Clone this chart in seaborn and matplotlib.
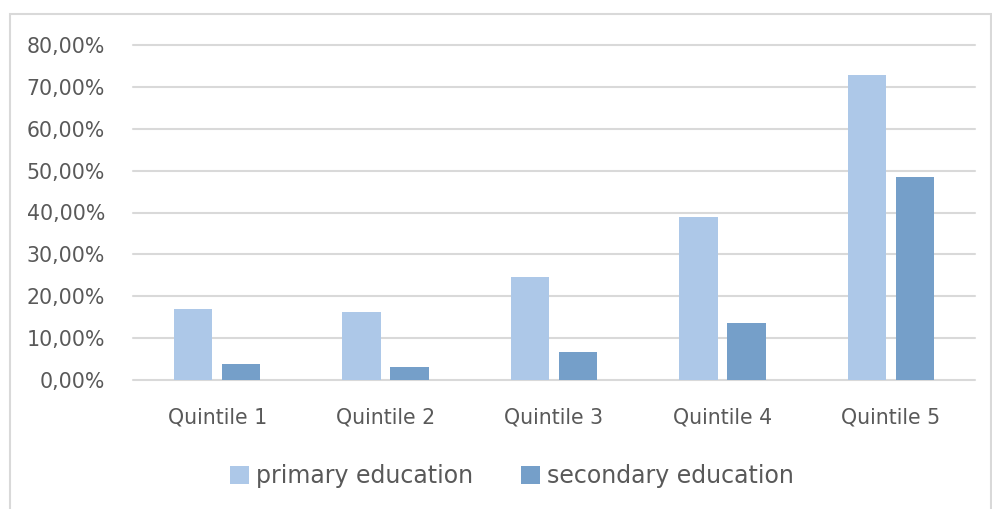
import matplotlib
matplotlib.use("Agg")
import matplotlib.pyplot as plt
import seaborn as sns
import pandas as pd
from matplotlib.ticker import FuncFormatter, MultipleLocator
from matplotlib.patches import Rectangle

# data
quintiles = ["Quintile 1", "Quintile 2", "Quintile 3", "Quintile 4", "Quintile 5"]
primary = [0.169, 0.162, 0.246, 0.389, 0.728]
secondary = [0.038, 0.031, 0.067, 0.136, 0.484]
series = ["primary education", "secondary education"]

df = pd.DataFrame({
    "quintile": quintiles * 2,
    "value": primary + secondary,
    "level": [series[0]] * len(quintiles) + [series[1]] * len(quintiles),
})

sns.set_style("white")
plt.rcParams['font.family'] = ['DejaVu Sans']
text_color = "#595959"

fig = plt.figure(figsize=(9.92, 5.09), dpi=100)
# outer chart frame
fig.patches.append(Rectangle((10 / 992, -0.01), 981 / 992, 1 - 14 / 509 + 0.01,
                             transform=fig.transFigure, fill=False,
                             edgecolor="#D9D9D9", linewidth=1.5))

ax = fig.add_axes([133 / 992, 1 - 380 / 509, 842 / 992, 335 / 509])
sns.barplot(data=df, x="quintile", y="value", hue="level",
            palette=["#ADC8E8", "#759FC9"], saturation=1, width=0.57, gap=0.2,
            linewidth=0, ax=ax, legend=True)

ax.set_ylim(0, 0.8)
ax.set_xlim(-0.5, 4.5)
ax.yaxis.set_major_locator(MultipleLocator(0.1))
ax.yaxis.set_major_formatter(FuncFormatter(lambda v, p: f"{v*100:.2f}%".replace(".", ",")))
ax.grid(axis="y", color="#D9D9D9", linewidth=1.5)
for gl in ax.get_ygridlines():
    gl.set_clip_on(False)
ax.set_axisbelow(True)
for s in ax.spines.values():
    s.set_visible(False)
ax.tick_params(axis="both", length=0, labelsize=14.8, labelcolor=text_color)
ax.tick_params(axis="y", pad=20)
ax.tick_params(axis="x", pad=20)
ax.set_xlabel("")
ax.set_ylabel("")

handles, labels = ax.get_legend_handles_labels()
ax.legend_.remove()
fig.legend(handles, labels, loc="center", bbox_to_anchor=(512 / 992, 1 - 476 / 509),
           ncol=2, frameon=False, fontsize=17, labelcolor=text_color,
           handlelength=0.8, handleheight=0.8, handletextpad=0.3, columnspacing=2.0)

fig.savefig("out.png", dpi=100)
